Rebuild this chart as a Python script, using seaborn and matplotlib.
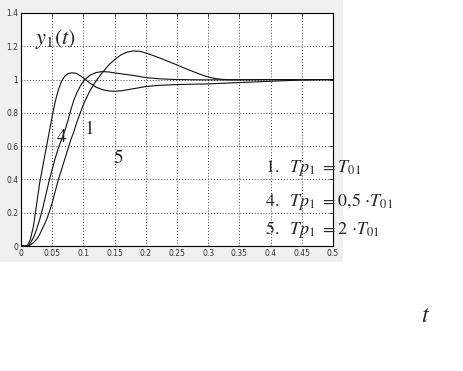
import numpy as np
import pandas as pd
import matplotlib
matplotlib.use("Agg")
import matplotlib.pyplot as plt
from matplotlib.patches import Rectangle
import seaborn as sns

# ---- data ----
t_a = [0, 0.01, 0.015, 0.02, 0.025, 0.03, 0.035, 0.04, 0.045, 0.05, 0.055, 0.06, 0.065,
       0.07, 0.075, 0.08, 0.085, 0.09, 0.1, 0.11, 0.12, 0.13, 0.14, 0.15, 0.16, 0.18,
       0.2, 0.22, 0.25, 0.3, 0.35, 0.4, 0.45, 0.5]
y_a = [0, 0.0, 0.04, 0.12, 0.25, 0.38, 0.48, 0.58, 0.68, 0.78, 0.87, 0.94, 0.99,
       1.02, 1.035, 1.04, 1.04, 1.035, 1.01, 0.98, 0.955, 0.94, 0.932, 0.93, 0.932, 0.945,
       0.958, 0.965, 0.97, 0.974, 0.982, 0.99, 0.997, 1.0]

t_b = [0, 0.012, 0.02, 0.025, 0.03, 0.035, 0.04, 0.045, 0.05, 0.055, 0.06, 0.065, 0.07,
       0.075, 0.08, 0.085, 0.09, 0.095, 0.1, 0.11, 0.12, 0.13, 0.14, 0.15, 0.16, 0.18,
       0.2, 0.22, 0.25, 0.3, 0.4, 0.5]
y_b = [0, 0, 0.05, 0.1, 0.16, 0.23, 0.31, 0.39, 0.46, 0.53, 0.59, 0.64, 0.69,
       0.75, 0.82, 0.88, 0.925, 0.96, 0.99, 1.025, 1.042, 1.048, 1.046, 1.04, 1.035, 1.025,
       1.012, 1.005, 1.0, 0.998, 1.0, 1.0]

t_c = [0, 0.012, 0.02, 0.025, 0.03, 0.035, 0.04, 0.045, 0.05, 0.055, 0.06, 0.065, 0.07,
       0.075, 0.08, 0.085, 0.09, 0.095, 0.1, 0.11, 0.12, 0.13, 0.14, 0.15, 0.16, 0.17,
       0.18, 0.19, 0.2, 0.21, 0.22, 0.23, 0.24, 0.25, 0.26, 0.27, 0.28, 0.29, 0.3, 0.31,
       0.32, 0.33, 0.35, 0.4, 0.5]
y_c = [0, 0, 0.02, 0.04, 0.07, 0.11, 0.15, 0.2, 0.26, 0.33, 0.4, 0.46, 0.52,
       0.58, 0.64, 0.69, 0.75, 0.8, 0.85, 0.93, 0.99, 1.04, 1.085, 1.12, 1.148, 1.165,
       1.172, 1.17, 1.16, 1.147, 1.133, 1.118, 1.103, 1.088, 1.072, 1.057, 1.042, 1.028, 1.016, 1.007,
       1.002, 0.999, 0.998, 1.0, 1.0]

x_ticks = [0, 0.05, 0.1, 0.15, 0.2, 0.25, 0.3, 0.35, 0.4, 0.45, 0.5]
x_ticklabels = ["0", "0.05", "0.1", "0.15", "0.2", "0.25", "0.3", "0.35", "0.4", "0.45", "0.5"]
y_ticks = [0, 0.2, 0.4, 0.6, 0.8, 1.0, 1.2, 1.4]
y_ticklabels = ["0", "0.2", "0.4", "0.6", "0.8", "1", "1.2", "1.4"]

curve_labels = ["4", "1", "5"]
legend_lines = [r"$1.\ \ Tp_1\ {=}T_{01}$",
                r"$4.\ \ Tp_1\ {=}0{,}5\ {\cdot}T_{01}$",
                r"$5.\ \ Tp_1\ {=}2\ {\cdot}T_{01}$"]

df = pd.concat([
    pd.DataFrame({"t": t_a, "y": y_a, "curve": "a"}),
    pd.DataFrame({"t": t_b, "y": y_b, "curve": "b"}),
    pd.DataFrame({"t": t_c, "y": y_c, "curve": "c"}),
])

# ---- figure ----
sns.set_style("white")
plt.rcParams["mathtext.fontset"] = "stix"
plt.rcParams["font.family"] = ["DejaVu Sans"]

W, H = 463, 371
fig = plt.figure(figsize=(W / 100, H / 100), dpi=100, facecolor="white")

def fx(px):
    return px / W

def fy(py):
    return 1 - py / H

fig.patches.append(Rectangle((0, fy(262)), fx(343), 262 / H, transform=fig.transFigure,
                             facecolor="#f0f0f0", edgecolor="none", zorder=-10))

ax = fig.add_axes([fx(21), fy(246), fx(333) - fx(21), (246 - 13) / H])
ax.set_facecolor("white")

sns.lineplot(data=df, x="t", y="y", hue="curve", units="curve", estimator=None,
             palette=["#111111"] * 3, linewidth=0.8, legend=False, sort=False, ax=ax)

ax.set_xlim(0, 0.5)
ax.set_ylim(0, 1.4)
ax.set_xticks(x_ticks)
ax.set_xticklabels(x_ticklabels)
ax.set_yticks(y_ticks)
ax.set_yticklabels(y_ticklabels)
ax.set_xlabel("")
ax.set_ylabel("")
ax.grid(True, linestyle=(0, (1, 2.5)), color="black", linewidth=0.6)
for s in ax.spines.values():
    s.set_visible(True)
    s.set_color("black")
    s.set_linewidth(0.8)
ax.tick_params(direction="in", length=3, width=0.6, top=True, right=True,
               labelsize=5.5, labelcolor="#333333", pad=2)

# labels on curves
fig.text(fx(57), fy(142), curve_labels[0], family="STIXGeneral", fontsize=14, va="baseline")
fig.text(fx(85), fy(134), curve_labels[1], family="STIXGeneral", fontsize=14, va="baseline")
fig.text(fx(113), fy(163), curve_labels[2], family="STIXGeneral", fontsize=14, va="baseline")

# y1(t) label
fig.text(fx(35), fy(44), r"$y_1(t)$", fontsize=16, va="baseline")

# legend-like text
for txt, base in zip(legend_lines, [172, 206, 234]):
    fig.text(fx(265), fy(base), txt, fontsize=13, va="baseline")

# t label
fig.text(fx(421), fy(322), r"$t$", fontsize=17, va="baseline")

fig.savefig("out.png", dpi=100, facecolor="white")
